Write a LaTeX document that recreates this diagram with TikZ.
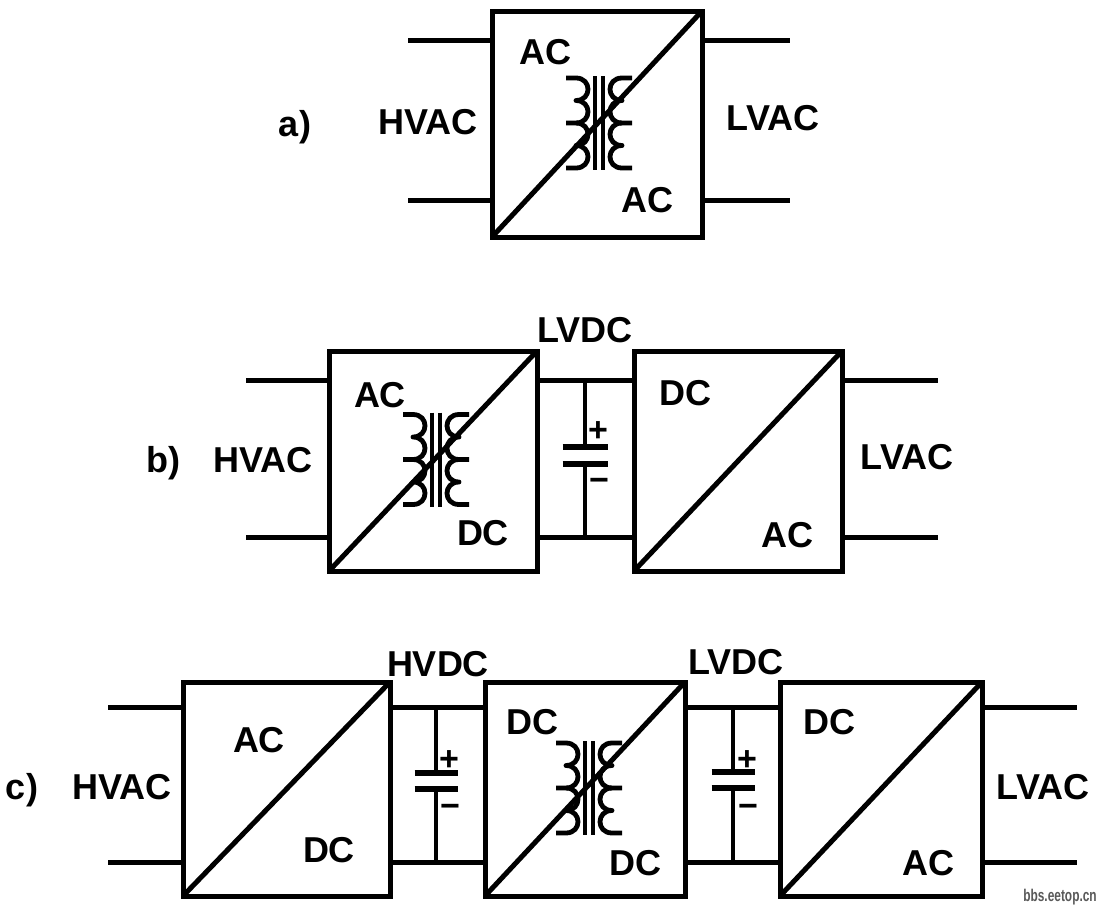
\documentclass[tikz,border=0pt]{standalone}
\usepackage{fontspec}
\setmainfont{Liberation Sans}
\begin{document}
\begin{tikzpicture}[x=1pt,y=-1pt,
  box/.style={draw, line width=5pt, inner sep=0pt, outer sep=0pt},
  wire/.style={line width=5pt},
  capwire/.style={line width=4.5pt},
  plate/.style={line width=6pt},
  lbl/.style={font=\fontsize{36}{40}\selectfont\bfseries, inner sep=0pt, text height=25.8pt, text depth=0pt},
  sgn/.style={font=\fontsize{34}{38}\selectfont\bfseries, inner sep=0pt, anchor=base},
  coil/.style={line width=4.8pt, line join=round},
  core/.style={line width=3.2pt},
  xfmr/.pic={
    \draw[coil] (-33,-45) -- (-23,-45) .. controls (-7,-45) and (-7,-22.5) .. (-23,-22.5)
                .. controls (-7,-22.5) and (-7,0) .. (-23,0) -- (-33,0);
    \draw[coil] (-23,0) .. controls (-7,0) and (-7,22.5) .. (-23,22.5)
                .. controls (-7,22.5) and (-7,45) .. (-23,45) -- (-33,45);
    \draw[coil] (33,-45) -- (23,-45) .. controls (7,-45) and (7,-22.5) .. (23,-22.5)
                .. controls (7,-22.5) and (7,0) .. (23,0) -- (33,0);
    \draw[coil] (23,0) .. controls (7,0) and (7,22.5) .. (23,22.5)
                .. controls (7,22.5) and (7,45) .. (23,45) -- (33,45);
    \draw[core] (-4,-47) -- (-4,47) (4,-47) -- (4,47);
  }
]
\useasboundingbox[fill=white] (0,0) rectangle (1100,910);

% ---------------- a) ----------------
\node[box, minimum width=210pt, minimum height=226pt] (A) at (597,124) {};
\draw[wire] (A.south west) -- (A.north east);
\pic at (599,123) {xfmr};
\coordinate (aL1) at (408,40);
\coordinate (aL2) at (408,200);
\coordinate (aR1) at (790,40);
\coordinate (aR2) at (790,200);
\draw[wire] (aL1) -- (aL1 -| A.west);
\draw[wire] (aL2) -- (aL2 -| A.west);
\draw[wire] (aR1 -| A.east) -- (aR1);
\draw[wire] (aR2 -| A.east) -- (aR2);
\node[lbl] (la) at (295,124) {a)};
\node[lbl] (aHV) at (428,122) {HVAC};
\node[lbl] (aLV) at (773,118) {LVAC};
\node[lbl] (aAC1) at (545,52) {AC};
\node[lbl] (aAC2) at (647,200) {AC};

% ---------------- b) ----------------
\node[box, minimum width=208pt, minimum height=220pt] (B1) at (433,461) {};
\node[box, minimum width=208pt, minimum height=220pt] (B2) at (738,461) {};
\draw[wire] (B1.south west) -- (B1.north east);
\draw[wire] (B2.south west) -- (B2.north east);
\pic at (436,459.5) {xfmr};
\coordinate (bL1) at (246,380);
\coordinate (bL2) at (246,537);
\coordinate (bR1) at (938,380);
\coordinate (bR2) at (938,537);
\draw[wire] (bL1) -- (bL1 -| B1.west);
\draw[wire] (bL2) -- (bL2 -| B1.west);
\draw[wire] (bR1 -| B2.east) -- (bR1);
\draw[wire] (bR2 -| B2.east) -- (bR2);
\coordinate (bc1) at (585,380);
\coordinate (bc2) at (585,537);
\coordinate (bp1) at (585,447);
\coordinate (bp2) at (585,464);
\draw[wire] (bc1 -| B1.east) -- (bc1 -| B2.west);
\draw[wire] (bc2 -| B1.east) -- (bc2 -| B2.west);
\draw[capwire] (bc1) -- (bp1);
\draw[capwire] (bp2) -- (bc2);
\draw[plate] ([xshift=-22.5pt]bp1) -- ([xshift=22.5pt]bp1);
\draw[plate] ([xshift=-22.5pt]bp2) -- ([xshift=22.5pt]bp2);
\node[sgn] (bplus) at (598,441.5) {+};
\node[sgn] (bminus) at (599,491.5) {−};
\node[lbl] (lb) at (163,460) {b)};
\node[lbl] (bHV) at (263,460) {HVAC};
\node[lbl] (bLV) at (907,457) {LVAC};
\node[lbl] (bLVDC) at (585,330) {LVDC};
\node[lbl] (bAC1) at (380,395) {AC};
\node[lbl] (bDC1) at (483,533) {DC};
\node[lbl] (bDC2) at (685,393) {DC};
\node[lbl] (bAC2) at (787,535) {AC};

% ---------------- c) ----------------
\node[box, minimum width=207pt, minimum height=214pt] (C1) at (286.5,789) {};
\node[box, minimum width=200pt, minimum height=214pt] (C2) at (585,789) {};
\node[box, minimum width=202pt, minimum height=214pt] (C3) at (881,789) {};
\draw[wire] (C1.south west) -- (C1.north east);
\draw[wire] (C2.south west) -- (C2.north east);
\draw[wire] (C3.south west) -- (C3.north east);
\pic at (589,788) {xfmr};
\coordinate (cL1) at (108,707);
\coordinate (cL2) at (108,862);
\coordinate (cR1) at (1077,707);
\coordinate (cR2) at (1077,862);
\draw[wire] (cL1) -- (cL1 -| C1.west);
\draw[wire] (cL2) -- (cL2 -| C1.west);
\draw[wire] (cR1 -| C3.east) -- (cR1);
\draw[wire] (cR2 -| C3.east) -- (cR2);
% capacitor 1
\coordinate (c1t) at (436,707);
\coordinate (c1b) at (436,862);
\coordinate (c1p1) at (436,773);
\coordinate (c1p2) at (436,789);
\draw[wire] (c1t -| C1.east) -- (c1t -| C2.west);
\draw[wire] (c1b -| C1.east) -- (c1b -| C2.west);
\draw[capwire] (c1t) -- (c1p1);
\draw[capwire] (c1p2) -- (c1b);
\draw[plate] ([xshift=-21.5pt]c1p1) -- ([xshift=21.5pt]c1p1);
\draw[plate] ([xshift=-21.5pt]c1p2) -- ([xshift=21.5pt]c1p2);
\node[sgn] (c1plus) at (449,770.5) {+};
\node[sgn] (c1minus) at (450,817.5) {−};
% capacitor 2
\coordinate (c2t) at (733,707);
\coordinate (c2b) at (733,862);
\coordinate (c2p1) at (733,772);
\coordinate (c2p2) at (733,788);
\draw[wire] (c2t -| C2.east) -- (c2t -| C3.west);
\draw[wire] (c2b -| C2.east) -- (c2b -| C3.west);
\draw[capwire] (c2t) -- (c2p1);
\draw[capwire] (c2p2) -- (c2b);
\draw[plate] ([xshift=-21.5pt]c2p1) -- ([xshift=21.5pt]c2p1);
\draw[plate] ([xshift=-21.5pt]c2p2) -- ([xshift=21.5pt]c2p2);
\node[sgn] (c2plus) at (747,770.5) {+};
\node[sgn] (c2minus) at (748,817.5) {−};
\node[lbl] (lc) at (22,787) {c)};
\node[lbl] (cHV) at (122,787) {HVAC};
\node[lbl] (cLV) at (1043,787) {LVAC};
\node[lbl] (cHVDC) at (438,664) {HVDC};
\node[lbl] (cLVDC) at (736,662) {LVDC};
\node[lbl] (cAC1) at (259,740) {AC};
\node[lbl] (cDC1) at (329,850) {DC};
\node[lbl] (cDC2) at (532,722) {DC};
\node[lbl] (cDC3) at (635,863) {DC};
\node[lbl] (cDC4) at (829,722) {DC};
\node[lbl] (cAC2) at (928,863) {AC};

% watermark
\node[font=\fontsize{17}{20}\selectfont\bfseries, text=black!65, xscale=0.7, inner sep=0pt] (wm) at (1060,897) {bbs.eetop.cn};
\end{tikzpicture}
\end{document}
